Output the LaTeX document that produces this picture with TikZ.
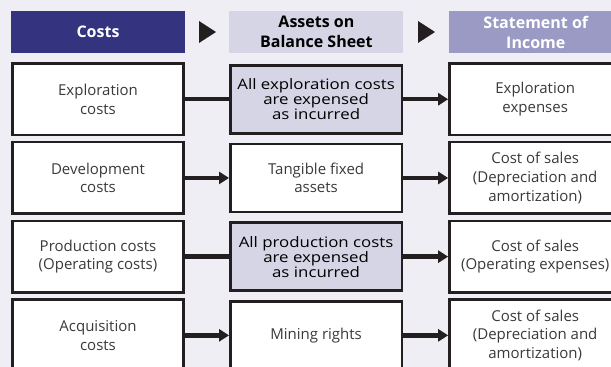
\documentclass[tikz,border=0pt]{standalone}
\usepackage{fontspec}
\setmainfont{Open Sans}
\newfontfamily\widefont[FakeStretch=1.17]{Open Sans}
\usepackage{tikz}
\usetikzlibrary{positioning}
\usetikzlibrary{arrows.meta}
\definecolor{bgC}{HTML}{EFEEF4}
\definecolor{costC}{HTML}{33337F}
\definecolor{assetC}{HTML}{D5D5E6}
\definecolor{incomeC}{HTML}{9A9AC4}
\definecolor{lineC}{HTML}{231F20}
\definecolor{textC}{HTML}{3A3A3A}
\tikzstyle{hdr}=[shape=rectangle, minimum height=42pt, minimum width=174pt, inner sep=0pt, align=center, font=\bfseries\fontsize{16}{20}\selectfont]
\tikzstyle{cbx}=[draw=lineC, line width=2.6pt, fill=white, shape=rectangle, minimum height=71.5pt, minimum width=171.5pt, inner sep=0pt, align=center, text=textC, font=\fontsize{15}{18.5}\selectfont]
\tikzstyle{abx}=[draw=lineC, line width=2.6pt, fill=white, shape=rectangle, minimum height=68pt, minimum width=171.5pt, inner sep=0pt, align=center, text=textC, font=\fontsize{15}{18.5}\selectfont]
\tikzstyle{sbx}=[abx, fill=assetC, text=black, font=\widefont\fontsize{14.4}{15}\selectfont]
\tikzstyle{marrow}=[line width=4.5pt, color=lineC, -{Triangle[length=10pt,width=12pt]}]
\tikzstyle{mline}=[line width=4.5pt, color=lineC]
\def\hdr{\node[style=hdr]}
\def\cbx{\node[style=cbx]}
\def\abx{\node[style=abx]}
\def\sbx{\node[style=sbx]}
\def\marrow{\draw[style=marrow]}
\def\mline{\draw[style=mline]}
\begin{document}
\begin{tikzpicture}[x=1pt, y=1pt]
      \fill[bgC] (0,0) rectangle (611,367);
      \useasboundingbox (0,0) rectangle (611,367);
      \clip (0,0) rectangle (611,367);
      % headers
      \hdr (Hcost) [fill=costC, text=white] at (98,335) {Costs};
      \hdr (Hasset) [fill=assetC, text=black, right=44pt of Hcost] {Assets on\\Balance Sheet};
      \hdr (Hincome) [fill=incomeC, text=white, right=45pt of Hasset] {Statement of\\Income};

      \fill[lineC] (199,346) -- (216,335) -- (199,324) -- cycle;
      \fill[lineC] (418,346) -- (435,335) -- (418,324) -- cycle;
      % costs
      \cbx (Lcost0) [below=9pt of Hcost] {Exploration\\costs};
      \cbx (Lcost1) [below=4.6pt of Lcost0] {Development\\costs};
      \cbx (Lcost2) [below=4.6pt of Lcost1] {Production costs\\(Operating costs)};
      \cbx (Lcost3) [below=4.6pt of Lcost2] {Acquisition\\costs};
      % assets
      \sbx (Masset0) [right=44pt of Lcost0] {All exploration costs\\are expensed\\as incurred};
      \abx (Masset1) [right=44pt of Lcost1] {Tangible fixed\\assets};
      \sbx (Masset2) [right=44pt of Lcost2] {All production costs\\are expensed\\as incurred};
      \abx (Masset3) [right=44pt of Lcost3] {Mining rights};
      % income
      \cbx (Rincome0) [right=45pt of Masset0] {Exploration\\expenses};
      \cbx (Rincome1) [right=45pt of Masset1] {Cost of sales\\(Depreciation and\\amortization)};
      \cbx (Rincome2) [right=45pt of Masset2] {Cost of sales\\(Operating expenses)};
      \cbx (Rincome3) [right=45pt of Masset3] {Cost of sales\\(Depreciation and\\amortization)};

      \mline  (Lcost0) -- (Masset0);
      \marrow (Lcost1) -- (Masset1);
      \mline  (Lcost2) -- (Masset2);
      \marrow (Lcost3) -- (Masset3);
      \marrow (Masset0) -- (Rincome0);
      \marrow (Masset1) -- (Rincome1);
      \marrow (Masset2) -- (Rincome2);
      \marrow (Masset3) -- (Rincome3);
\end{tikzpicture}
\end{document}
